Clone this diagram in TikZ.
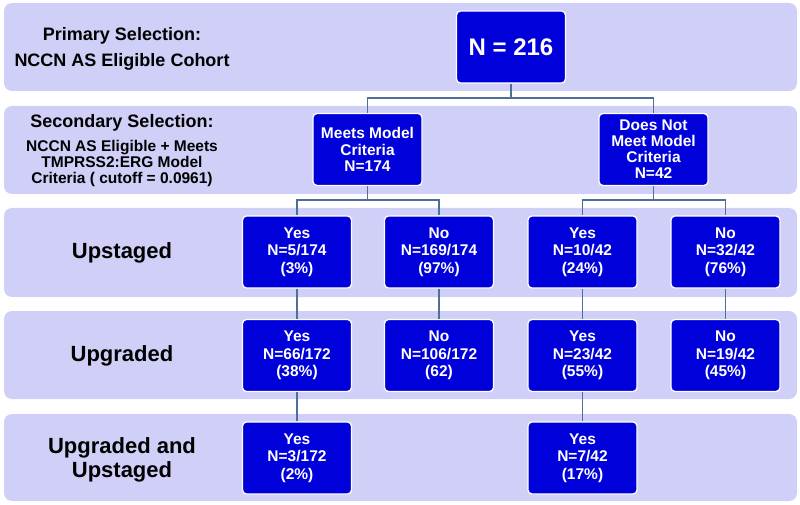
\documentclass[tikz,border=0pt]{standalone}
\usepackage{fontspec}
\setmainfont{Liberation Sans}
\definecolor{bandcol}{HTML}{CFCFF8}
\definecolor{boxcol}{HTML}{0000DA}
\definecolor{linecol}{HTML}{4F6F96}
\tikzset{
  band/.style={fill=bandcol, rounded corners=8pt},
  bx/.style={draw=white, line width=1.3pt, fill=boxcol, rounded corners=4pt,
    minimum width=109pt, minimum height=72pt, inner sep=1pt, align=center,
    text=white, font=\bfseries\fontsize{15.5}{17.5}\selectfont},
  rowlbl/.style={align=center, font=\bfseries\fontsize{22}{24}\selectfont},
  ln/.style={draw=linecol, line width=1.3pt}
}
\begin{document}
\begin{tikzpicture}[x=1pt, y=-1pt]
\useasboundingbox (0,0) rectangle (800,505);
% bands
\foreach \yt/\yb in {3/91, 106/194, 208/297, 311/399, 414/501}
  \fill[band] (4,\yt) rectangle (797,\yb);
% left labels
\node[align=center, font=\bfseries\fontsize{18}{26}\selectfont] (prim) at (122,48.5)
  {Primary Selection:\\NCCN AS Eligible Cohort};
\node[font=\bfseries\fontsize{18}{20}\selectfont] (sec) at (122,123) {Secondary Selection:};
\node[align=center, font=\bfseries\fontsize{15.5}{16}\selectfont] (secb) at (122,163)
  {NCCN AS Eligible + Meets\\TMPRSS2:ERG Model\\Criteria ( cutoff = 0.0961)};
\node[rowlbl] (upst) at (122,253) {Upstaged};
\node[rowlbl] (upgr) at (122,356) {Upgraded};
\node[rowlbl] (both) at (122,460) {Upgraded and\\Upstaged};
% boxes
\node[bx, font=\bfseries\fontsize{24}{26}\selectfont] (all) at (511,47) {N = 216};
\node[bx, font=\bfseries\fontsize{15.5}{16.5}\selectfont] (meets) at (367.5,149.5) {Meets Model\\Criteria\\N=174};
\node[bx, font=\bfseries\fontsize{15.5}{16}\selectfont] (notm) at (653.5,149.5) {Does Not\\Meet Model\\Criteria\\N=42};
\node[bx] (m-up-y) at (297,252) {Yes\\N=5/174\\(3\%)};
\node[bx] (m-up-n) at (439,252) {No\\N=169/174\\(97\%)};
\node[bx] (n-up-y) at (582.5,252) {Yes\\N=10/42\\(24\%)};
\node[bx] (n-up-n) at (725.5,252) {No\\N=32/42\\(76\%)};
\node[bx] (m-gr-y) at (297,355.5) {Yes\\N=66/172\\(38\%)};
\node[bx] (m-gr-n) at (439,355.5) {No\\N=106/172\\(62)};
\node[bx] (n-gr-y) at (582.5,355.5) {Yes\\N=23/42\\(55\%)};
\node[bx] (n-gr-n) at (725.5,355.5) {No\\N=19/42\\(45\%)};
\node[bx] (m-both) at (297,458) {Yes\\N=3/172\\(2\%)};
\node[bx] (n-both) at (582.5,458) {Yes\\N=7/42\\(17\%)};
% connectors
\coordinate (j0) at (511,98);
\coordinate (j1) at (367.5,200);
\coordinate (j2) at (653.5,200);
\draw[ln] (all) -- (j0) -| (meets);
\draw[ln] (j0) -| (notm);
\draw[ln] (meets) -- (j1) -| (m-up-y);
\draw[ln] (j1) -| (m-up-n);
\draw[ln] (notm) -- (j2) -| (n-up-y);
\draw[ln] (j2) -| (n-up-n);
\draw[ln] (m-up-y) -- (m-gr-y);
\draw[ln] (m-up-n) -- (m-gr-n);
\draw[ln] (n-up-y) -- (n-gr-y);
\draw[ln] (n-up-n) -- (n-gr-n);
\draw[ln] (m-gr-y) -- (m-both);
\draw[ln] (n-gr-y) -- (n-both);
\end{tikzpicture}
\end{document}
